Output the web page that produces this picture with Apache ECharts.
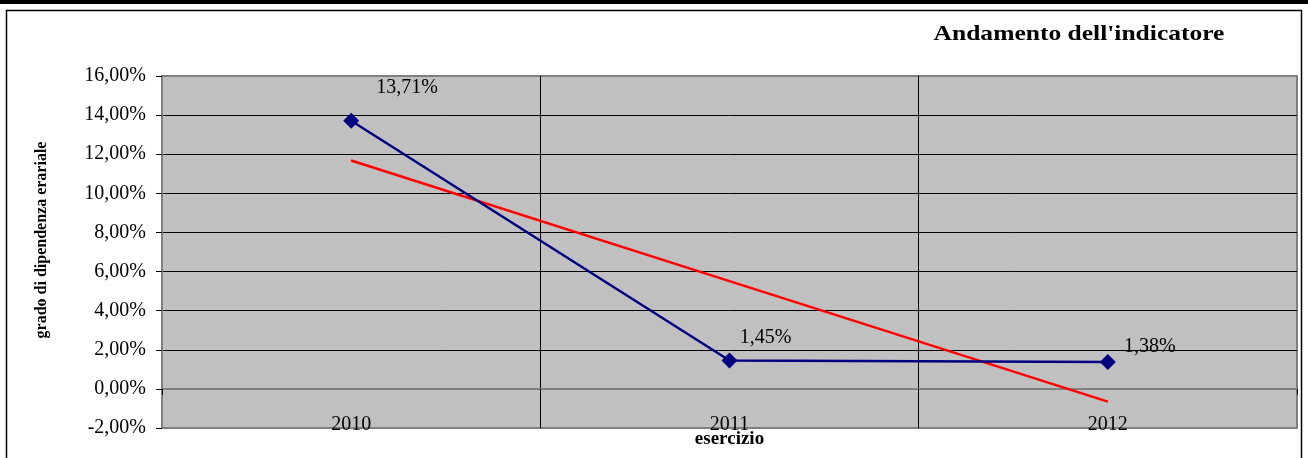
<!DOCTYPE html>
<html>
<head>
<meta charset="utf-8">
<script src="https://cdn.jsdelivr.net/npm/echarts@6/dist/echarts.min.js"></script>
<style>html,body{margin:0;padding:0;background:#fff}#c{width:1308px;height:458px}</style>
</head>
<body>
<div id="c"></div>
<script>
var categories = ['2010', '2011', '2012'];
var indicatore = [13.71, 1.45, 1.38];
var tendenza = [11.68, 5.51, -0.65];
var yTicks = { min: -2, max: 16, interval: 2 };

var labelOffsets = [[56, -33], [36, -23], [42, -15]];
var F = 'Liberation Serif';
function pct(v) { return v.toFixed(2).replace('.', ',') + '%'; }

var chart = echarts.init(document.getElementById('c'), null, { renderer: 'canvas' });
var hColors = [];
for (var i = 0; i <= (yTicks.max - yTicks.min) / yTicks.interval; i++) hColors.push('#000');
hColors[0] = '#808080'; hColors[hColors.length - 1] = '#808080';
var vColors = ['#808080'];
for (var j = 1; j < categories.length; j++) vColors.push('#000');
vColors.push('#808080');

chart.setOption({
  animation: false,
  backgroundColor: '#fff',
  textStyle: { fontFamily: F },
  graphic: [
    { type: 'rect', shape: { x: 0, y: 0, width: 1308, height: 4 }, style: { fill: '#000' }, z: 100 },
    { type: 'rect', shape: { x: 6.5, y: 10.5, width: 1295, height: 460 }, style: { fill: 'none', stroke: '#000', lineWidth: 1.5 }, z: 100 },
    { type: 'text', x: 1079, y: 34, scaleX: 1.16, style: { text: "Andamento dell'indicatore", font: 'bold 22px "Liberation Serif"', fill: '#000', align: 'center', verticalAlign: 'middle' }, z: 100 }
  ],
  grid: {
    left: 162, right: 11, top: 76, bottom: 30,
    outerBoundsMode: 'none', containLabel: false,
    show: true, backgroundColor: '#C0C0C0', borderColor: '#808080', borderWidth: 2
  },
  xAxis: {
    type: 'category',
    data: categories,
    boundaryGap: true,
    name: 'esercizio',
    nameLocation: 'middle',
    nameGap: 2,
    nameMoveOverlap: false,
    nameTextStyle: { fontFamily: F, fontSize: 19, fontWeight: 'bold', color: '#000' },
    axisLine: { onZero: true, lineStyle: { color: '#808080', width: 2 } },
    axisTick: { show: true, length: 6, lineStyle: { color: '#000' } },
    axisLabel: { margin: -13, fontFamily: F, fontSize: 20, color: '#000' },
    splitLine: { show: true, lineStyle: { color: vColors, width: 1 } }
  },
  yAxis: {
    type: 'value',
    min: yTicks.min, max: yTicks.max, interval: yTicks.interval,
    name: 'grado di dipendenza erariale',
    nameLocation: 'middle',
    nameRotate: 90,
    nameGap: 112,
    nameTextStyle: { fontFamily: F, fontSize: 16, fontWeight: 'bold', color: '#000', padding: [0, 0, 0, 24] },
    axisLine: { show: true, lineStyle: { color: '#808080', width: 2 } },
    axisTick: { show: true, length: 6, lineStyle: { color: '#000' } },
    axisLabel: { margin: 16, fontFamily: F, fontSize: 20, color: '#000', formatter: pct },
    splitLine: { show: true, lineStyle: { color: hColors, width: 1 } }
  },
  series: [
    {
      name: 'tendenza', type: 'line', data: tendenza,
      symbol: 'none', lineStyle: { color: '#FF0000', width: 2.5 }, itemStyle: { color: '#FF0000' }, z: 2
    },
    {
      name: 'indicatore', type: 'line',
      data: indicatore.map(function (v, k) {
        return { value: v, label: { offset: labelOffsets[k] } };
      }),
      symbol: 'diamond', symbolSize: 16,
      lineStyle: { color: '#000080', width: 2.5 }, itemStyle: { color: '#000080' },
      label: { show: true, position: 'inside', fontFamily: F, fontSize: 20, color: '#000', formatter: function (p) { return pct(p.value); } },
      z: 3
    }
  ]
});
</script>
</body>
</html>
